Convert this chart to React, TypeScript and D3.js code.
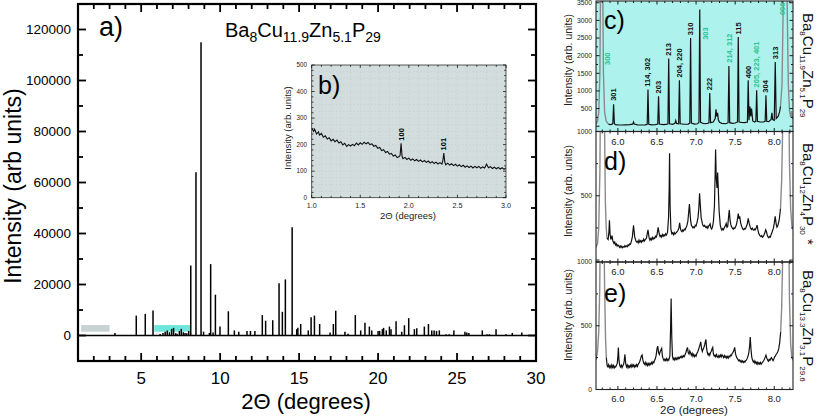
import React from "react";
import * as d3 from "d3";

const FONT = "'Liberation Sans', Arial, Helvetica, sans-serif";

// ---------- Panel a: calculated stick pattern ----------
const stickTwoTheta = [
  3.34, 4.69, 5.26, 5.75, 6.2, 6.38, 6.52, 6.65, 6.79, 6.93, 7.05, 7.18, 7.27, 7.42, 7.54, 7.67, 7.78, 7.89, 8.01,
  8.14, 8.47, 8.79, 8.95, 9.32, 9.4, 9.55, 9.7, 9.99, 10.52, 10.9, 11.18, 11.7, 11.92, 12.2, 12.67, 12.88, 13.33,
  13.73, 13.94, 14.13, 14.56, 14.85, 14.92, 15.1, 15.58, 15.76, 15.97, 16.3, 16.96, 17.17, 17.32, 17.9, 18.1, 18.56,
  18.9, 19.17, 19.45, 19.6, 20.0, 20.1, 20.27, 20.35, 20.52, 20.72, 20.82, 21.14, 21.5, 21.67, 21.94, 22.3, 22.45,
  22.93, 23.19, 23.4, 23.55, 23.7, 23.88, 24.3, 24.5, 24.8, 25.5, 25.62, 25.75, 26.6, 26.9, 27.05, 27.47, 28.1, 28.5, 29.1,
];
const stickIntensity = [
  1000, 7800, 8500, 9800, 600, 1000, 1500, 2000, 1300, 2600, 3000, 900, 700, 1800, 2600, 1300, 1000, 900, 1800,
  27500, 64000, 115000, 1500, 1000, 28000, 1200, 16000, 3500, 9500, 2000, 1500, 1800, 1800, 1800, 8000, 5800, 6000,
  20500, 9300, 22000, 42500, 2500, 3000, 4500, 2000, 7200, 7800, 4500, 1200, 4500, 9700, 1500, 700, 8000,
  2000, 5000, 3500, 2000, 1800, 1800, 2500, 3000, 2000, 3500, 2500, 5600, 1500, 4000, 6800, 2500, 2800,
  3500, 4500, 2000, 2000, 1800, 2000, 500, 500, 2000, 1500, 1200, 1000, 2000, 500, 500, 2500, 500, 1000, 1200,
];
const mainXTicks = [5, 10, 15, 20, 25, 30];
const mainYTicks = [0, 20000, 40000, 60000, 80000, 100000, 120000];
const zoomRangeB = [1.2, 3.0];
const zoomRangeC = [5.83, 8.14];
const zoomBoxLevels = [1500, 4100];

// ---------- Panel b (inset) ----------
const insetPoints: [number, number][] = [
  [1.0, 262], [1.02, 250], [1.03, 258], [1.05, 240], [1.07, 248], [1.08, 236], [1.1, 242], [1.12, 228], [1.14, 233],
  [1.16, 221], [1.18, 226], [1.2, 214], [1.22, 220], [1.24, 211], [1.26, 217], [1.28, 206], [1.3, 211], [1.32, 199],
  [1.34, 205], [1.36, 193], [1.38, 200], [1.4, 195], [1.42, 201], [1.44, 196], [1.46, 206], [1.48, 199], [1.5, 207],
  [1.52, 201], [1.54, 209], [1.56, 203], [1.58, 208], [1.6, 200], [1.62, 203], [1.64, 194], [1.66, 197], [1.68, 186],
  [1.7, 189], [1.72, 178], [1.74, 181], [1.76, 170], [1.78, 174], [1.8, 164], [1.82, 167], [1.84, 157], [1.86, 161],
  [1.88, 151], [1.9, 155], [1.91, 160], [1.92, 205], [1.93, 156], [1.94, 147], [1.96, 152], [1.98, 144], [2.0, 149],
  [2.02, 141], [2.04, 146], [2.06, 139], [2.08, 144], [2.1, 137], [2.12, 142], [2.14, 135], [2.16, 140], [2.18, 133],
  [2.2, 138], [2.22, 131], [2.24, 136], [2.26, 129], [2.28, 134], [2.3, 127], [2.32, 132], [2.34, 127], [2.35, 140],
  [2.36, 168], [2.37, 134], [2.38, 124], [2.4, 130], [2.42, 123], [2.44, 128], [2.46, 121], [2.48, 126], [2.5, 119],
  [2.52, 124], [2.54, 117], [2.56, 122], [2.58, 115], [2.6, 120], [2.62, 114], [2.64, 119], [2.66, 112], [2.68, 118],
  [2.7, 113], [2.72, 118], [2.74, 111], [2.76, 116], [2.78, 112], [2.8, 126], [2.82, 113], [2.84, 117], [2.86, 110],
  [2.88, 115], [2.9, 109], [2.92, 114], [2.94, 108], [2.96, 113], [2.98, 107], [3.0, 112],
];
const insetLabels = ["100", "101"];
const insetLabelX = [1.92, 2.36];
const insetLabelY = [215, 178];

// ---------- Panel c ----------
const cPoints: [number, number][] = [
  [5.72, 60], [5.74, 150], [5.755, 400], [5.77, 1500], [5.785, 6000], [5.8, 6000], [5.815, 1500], [5.83, 400], [5.85, 150],
  [5.87, 80], [5.88, 60], [5.9, 45], [5.92, 50], [5.935, 70], [5.945, 620], [5.955, 70], [5.97, 45], [6.0, 40], [6.05, 35],
  [6.1, 40], [6.15, 45], [6.19, 60], [6.2, 120], [6.21, 60], [6.25, 40], [6.3, 35], [6.35, 40], [6.375, 55], [6.385, 1040],
  [6.395, 55], [6.43, 40], [6.48, 45], [6.51, 60], [6.52, 850], [6.53, 60], [6.58, 45], [6.62, 50], [6.64, 70], [6.65, 1920],
  [6.66, 70], [6.7, 55], [6.73, 80], [6.74, 160], [6.75, 80], [6.777, 70], [6.787, 1300], [6.797, 70], [6.85, 55], [6.9, 60],
  [6.92, 90], [6.93, 2500], [6.94, 90], [6.98, 60], [7.02, 70], [7.037, 110], [7.047, 3310], [7.057, 110], [7.1, 70],
  [7.15, 80], [7.165, 100], [7.175, 940], [7.185, 100], [7.22, 120], [7.245, 220], [7.255, 480], [7.265, 280], [7.275, 380],
  [7.285, 180], [7.3, 110], [7.33, 80], [7.38, 70], [7.41, 100], [7.42, 1710], [7.43, 100], [7.47, 80], [7.5, 90], [7.53, 120],
  [7.54, 2530], [7.55, 120], [7.58, 110], [7.62, 100], [7.657, 120], [7.667, 1300], [7.677, 170], [7.69, 560], [7.7, 280],
  [7.71, 500], [7.725, 150], [7.75, 120], [7.765, 140], [7.775, 1020], [7.785, 140], [7.82, 120], [7.86, 120], [7.884, 140],
  [7.894, 880], [7.904, 140], [7.93, 130], [7.96, 190], [7.97, 380], [7.98, 190], [8.0, 170], [8.013, 1820], [8.025, 220],
  [8.05, 280], [8.07, 420], [8.08, 560], [8.1, 1200], [8.115, 3500], [8.13, 8000], [8.15, 8000], [8.165, 3500], [8.18, 1200],
  [8.195, 450], [8.21, 250], [8.222, 430], [8.232, 250], [8.24, 200],
];
const cLabelText = ["300", "301", "114, 302", "203", "213", "204, 220", "310", "303", "222", "214, 312", "115", "400", "205, 223, 401", "304", "313", "006"];
const cLabelX = [5.868, 5.945, 6.385, 6.52, 6.65, 6.787, 6.93, 7.125, 7.175, 7.43, 7.54, 7.667, 7.775, 7.894, 8.013, 8.11];
const cLabelY = [1735, 720, 1120, 930, 2000, 1380, 2580, 2450, 1020, 1800, 2600, 1360, 1100, 950, 1900, 3150];
const cLabelMainPhase = [true, false, false, false, false, false, false, true, false, true, false, false, true, false, false, true];

// ---------- Panel d ----------
const dPoints: [number, number][] = [
  [5.72, 100], [5.74, 130], [5.755, 250], [5.77, 700], [5.78, 1500], [5.795, 3000], [5.81, 3000], [5.825, 1300], [5.84, 450],
  [5.85, 260], [5.86, 170], [5.875, 160], [5.885, 220], [5.892, 310], [5.9, 200], [5.91, 160], [5.925, 190], [5.935, 150],
  [5.95, 130], [5.96, 140], [5.97, 118], [5.98, 126], [5.99, 108], [6.0, 118], [6.01, 112], [6.02, 100], [6.03, 110], [6.04, 98],
  [6.05, 108], [6.06, 96], [6.07, 104], [6.08, 100], [6.09, 112], [6.1, 103], [6.11, 110], [6.12, 104], [6.13, 118], [6.14, 112],
  [6.15, 126], [6.16, 122], [6.17, 140], [6.185, 180], [6.2, 270], [6.215, 180], [6.23, 150], [6.24, 140], [6.25, 146],
  [6.26, 134], [6.27, 155], [6.28, 140], [6.29, 150], [6.3, 138], [6.31, 152], [6.32, 145], [6.33, 162], [6.34, 148], [6.35, 158],
  [6.365, 170], [6.385, 235], [6.4, 170], [6.41, 155], [6.42, 168], [6.43, 158], [6.44, 176], [6.45, 162], [6.46, 172],
  [6.47, 168], [6.48, 185], [6.49, 178], [6.5, 195], [6.515, 255], [6.53, 200], [6.54, 182], [6.55, 192], [6.56, 180],
  [6.57, 198], [6.58, 186], [6.59, 196], [6.6, 188], [6.61, 204], [6.62, 195], [6.635, 215], [6.648, 330], [6.656, 560],
  [6.661, 830], [6.668, 420], [6.678, 240], [6.69, 205], [6.7, 212], [6.71, 198], [6.72, 214], [6.73, 202], [6.74, 210],
  [6.75, 216], [6.76, 224], [6.77, 232], [6.78, 250], [6.79, 290], [6.8, 245], [6.81, 226], [6.82, 220], [6.83, 234],
  [6.84, 226], [6.85, 240], [6.86, 236], [6.87, 252], [6.88, 262], [6.895, 300], [6.915, 435], [6.93, 310], [6.94, 270],
  [6.95, 262], [6.96, 250], [6.97, 258], [6.98, 252], [6.99, 270], [7.0, 265], [7.01, 288], [7.025, 330], [7.035, 400],
  [7.045, 520], [7.055, 420], [7.065, 330], [7.08, 285], [7.09, 268], [7.1, 262], [7.11, 270], [7.12, 258], [7.13, 252],
  [7.14, 262], [7.15, 248], [7.16, 262], [7.17, 272], [7.18, 282], [7.19, 250], [7.2, 242], [7.21, 256], [7.222, 300],
  [7.235, 420], [7.243, 640], [7.25, 860], [7.258, 640], [7.268, 560], [7.276, 680], [7.284, 560], [7.295, 380], [7.31, 270],
  [7.32, 245], [7.33, 232], [7.34, 244], [7.35, 236], [7.36, 252], [7.37, 262], [7.385, 285], [7.395, 255], [7.405, 262],
  [7.415, 330], [7.425, 390], [7.435, 310], [7.445, 275], [7.455, 258], [7.465, 248], [7.475, 240], [7.485, 250], [7.495, 246],
  [7.505, 260], [7.515, 272], [7.525, 300], [7.54, 362], [7.55, 320], [7.558, 340], [7.57, 290], [7.58, 268], [7.59, 252],
  [7.6, 240], [7.61, 236], [7.62, 246], [7.63, 242], [7.64, 256], [7.655, 280], [7.667, 325], [7.68, 285], [7.69, 262],
  [7.7, 246], [7.71, 238], [7.72, 248], [7.73, 236], [7.74, 232], [7.75, 242], [7.76, 236], [7.77, 252], [7.78, 272],
  [7.79, 238], [7.8, 210], [7.81, 196], [7.82, 188], [7.83, 182], [7.84, 190], [7.85, 178], [7.86, 184], [7.87, 196],
  [7.88, 212], [7.89, 235], [7.9, 222], [7.91, 196], [7.92, 180], [7.93, 174], [7.94, 184], [7.95, 178], [7.96, 198],
  [7.97, 212], [7.98, 232], [7.99, 248], [8.0, 285], [8.012, 340], [8.025, 280], [8.035, 256], [8.045, 266], [8.055, 290],
  [8.065, 320], [8.08, 400], [8.095, 620], [8.11, 1100], [8.125, 2000], [8.14, 3000], [8.165, 3000], [8.18, 1600],
  [8.195, 750], [8.21, 400], [8.225, 270], [8.24, 240],
];

// ---------- Panel e ----------
const ePoints: [number, number][] = [
  [5.72, 230], [5.74, 300], [5.755, 450], [5.768, 800], [5.778, 1500], [5.79, 3000], [5.805, 3000], [5.818, 1500],
  [5.83, 800], [5.842, 400], [5.852, 250], [5.862, 190], [5.872, 178], [5.882, 194], [5.892, 172], [5.902, 186], [5.912, 170],
  [5.922, 192], [5.932, 174], [5.942, 188], [5.952, 168], [5.962, 182], [5.972, 176], [5.982, 190], [5.992, 205],
  [6.0, 260], [6.006, 330], [6.014, 230], [6.024, 188], [6.034, 176], [6.044, 190], [6.054, 172], [6.064, 186],
  [6.074, 200], [6.082, 230], [6.09, 275], [6.1, 205], [6.11, 178], [6.12, 192], [6.13, 170], [6.14, 186], [6.15, 174],
  [6.16, 190], [6.17, 176], [6.18, 196], [6.19, 180], [6.2, 192], [6.21, 176], [6.22, 190], [6.23, 180], [6.24, 196],
  [6.25, 182], [6.26, 198], [6.27, 206], [6.28, 220], [6.29, 240], [6.3, 262], [6.31, 270], [6.32, 230], [6.33, 208],
  [6.34, 198], [6.35, 212], [6.36, 192], [6.37, 206], [6.38, 188], [6.39, 204], [6.4, 190], [6.41, 206], [6.42, 196],
  [6.43, 212], [6.44, 200], [6.45, 218], [6.46, 210], [6.47, 230], [6.48, 242], [6.49, 270], [6.5, 318], [6.51, 340],
  [6.52, 290], [6.53, 275], [6.54, 296], [6.55, 310], [6.56, 322], [6.57, 260], [6.58, 240], [6.59, 226], [6.6, 238],
  [6.61, 228], [6.62, 242], [6.63, 226], [6.64, 238], [6.65, 230], [6.665, 262], [6.674, 480], [6.681, 713], [6.689, 420],
  [6.698, 262], [6.708, 236], [6.718, 246], [6.728, 232], [6.738, 246], [6.748, 236], [6.758, 250], [6.768, 238],
  [6.778, 252], [6.788, 244], [6.8, 258], [6.81, 250], [6.82, 262], [6.83, 252], [6.84, 266], [6.85, 258], [6.86, 274],
  [6.87, 290], [6.88, 312], [6.89, 330], [6.9, 290], [6.91, 278], [6.92, 302], [6.93, 286], [6.94, 268], [6.95, 284],
  [6.96, 262], [6.97, 276], [6.98, 258], [6.99, 270], [7.0, 262], [7.01, 282], [7.02, 294], [7.03, 310], [7.045, 340],
  [7.06, 373], [7.07, 320], [7.08, 298], [7.09, 316], [7.1, 330], [7.11, 350], [7.12, 380], [7.126, 392], [7.135, 320],
  [7.145, 286], [7.155, 270], [7.165, 282], [7.175, 268], [7.185, 290], [7.195, 300], [7.205, 320], [7.213, 330],
  [7.222, 278], [7.232, 262], [7.242, 270], [7.252, 256], [7.262, 274], [7.272, 258], [7.282, 250], [7.292, 266],
  [7.302, 254], [7.312, 270], [7.322, 256], [7.332, 272], [7.342, 262], [7.352, 250], [7.362, 266], [7.372, 252],
  [7.382, 262], [7.392, 246], [7.402, 258], [7.412, 246], [7.422, 262], [7.432, 256], [7.442, 270], [7.452, 266],
  [7.462, 284], [7.472, 290], [7.482, 304], [7.494, 330], [7.505, 280], [7.515, 258], [7.525, 246], [7.535, 236],
  [7.545, 226], [7.555, 232], [7.565, 218], [7.575, 228], [7.585, 214], [7.595, 224], [7.605, 212], [7.615, 222],
  [7.625, 214], [7.635, 226], [7.645, 232], [7.655, 246], [7.665, 262], [7.675, 290], [7.685, 340], [7.693, 412],
  [7.702, 320], [7.712, 256], [7.722, 230], [7.732, 216], [7.742, 226], [7.752, 208], [7.762, 218], [7.772, 202],
  [7.782, 214], [7.792, 198], [7.802, 210], [7.812, 200], [7.822, 212], [7.832, 198], [7.842, 208], [7.852, 214],
  [7.862, 224], [7.872, 236], [7.882, 250], [7.894, 270], [7.905, 246], [7.915, 232], [7.925, 222], [7.935, 236],
  [7.945, 228], [7.955, 242], [7.965, 250], [7.975, 238], [7.985, 226], [7.995, 240], [8.005, 256], [8.015, 264],
  [8.025, 276], [8.035, 284], [8.045, 296], [8.058, 320], [8.07, 370], [8.082, 450], [8.095, 640], [8.11, 1100],
  [8.125, 2000], [8.14, 3000], [8.165, 3000], [8.18, 1600], [8.195, 700], [8.21, 360], [8.225, 250], [8.24, 230],
];

const rightXTicks = [6.0, 6.5, 7.0, 7.5, 8.0];
const cYTicks = [500, 1000, 1500, 2000, 2500, 3000, 3500];
const dYTicks = [500, 1000];
const eYTicks = [0, 500, 1000];

const cFormula: [string, string][] = [["Ba", "8"], ["Cu", "11.9"], ["Zn", "5.1"], ["P", "29"]];
const dFormula: [string, string][] = [["Ba", "8"], ["Cu", "12"], ["Zn", "4"], ["P", "30"]];
const eFormula: [string, string][] = [["Ba", "8"], ["Cu", "13.3"], ["Zn", "3.1"], ["P", "29.6"]];

// ---------- helpers ----------
type Lin = d3.ScaleLinear<number, number>;

function frameTicks(
  xs: Lin, ys: Lin, xMaj: number[], xMin: number[], yMaj: number[], yMin: number[],
  lMaj: number, lMin: number, sw: number, key: string
) {
  const [x0, x1] = xs.range();
  const [yb, yt] = ys.range();
  const out: JSX.Element[] = [];
  const add = (v: number, L: number, axis: "x" | "y", i: string) => {
    if (axis === "x") {
      const px = xs(v);
      out.push(<line key={key + "b" + i} x1={px} x2={px} y1={yb} y2={yb - L} stroke="#000" strokeWidth={sw} />);
      out.push(<line key={key + "t" + i} x1={px} x2={px} y1={yt} y2={yt + L} stroke="#000" strokeWidth={sw} />);
    } else {
      const py = ys(v);
      out.push(<line key={key + "l" + i} x1={x0} x2={x0 + L} y1={py} y2={py} stroke="#000" strokeWidth={sw} />);
      out.push(<line key={key + "r" + i} x1={x1} x2={x1 - L} y1={py} y2={py} stroke="#000" strokeWidth={sw} />);
    }
  };
  xMaj.forEach((v, i) => add(v, lMaj, "x", "M" + i));
  xMin.forEach((v, i) => add(v, lMin, "x", "m" + i));
  yMaj.forEach((v, i) => add(v, lMaj, "y", "M" + i));
  yMin.forEach((v, i) => add(v, lMin, "y", "m" + i));
  return out;
}

function Formula({ parts, fs, sfs, shift }: { parts: [string, string][]; fs: number; sfs: number; shift: number }) {
  const spans: JSX.Element[] = [];
  parts.forEach(([el, n], i) => {
    spans.push(<tspan key={"e" + i} dy={i === 0 ? 0 : -shift} fontSize={fs}>{el}</tspan>);
    spans.push(<tspan key={"n" + i} dy={shift} fontSize={sfs}>{n}</tspan>);
  });
  return <>{spans}</>;
}

const near = (a: number, b: number) => Math.abs(a - b) < 1e-9;
const minorOf = (lo: number, hi: number, step: number, majors: number[]) =>
  d3.range(Math.round((hi - lo) / step) + 1).map((i) => +(lo + i * step).toFixed(6)).filter((v) => !majors.some((m) => near(m, v)));

export default function App() {
  // main panel scales
  const mx = d3.scaleLinear().domain([1, 30]).range([78, 536]);
  const my = d3.scaleLinear().domain([-10000, 130000]).range([361, 4]);
  // inset scales
  const ix = d3.scaleLinear().domain([1, 3]).range([311.7, 506]);
  const iy = d3.scaleLinear().domain([0, 500]).range([197.7, 65]);
  // right panels
  const rx = d3.scaleLinear().domain([5.72, 8.24]).range([596, 793]);
  const cy = d3.scaleLinear().domain([-150, 3550]).range([131.5, 1]);
  const dy = d3.scaleLinear().domain([-15, 1000]).range([262, 131.5]);
  const ey = d3.scaleLinear().domain([0, 1000]).range([389.5, 262]);

  const insetLine = d3.line<[number, number]>().x((d) => ix(d[0])).y((d) => iy(d[1]));

  const panelPaths = (pts: [number, number][], ys: Lin, lo: number, hi: number) => {
    const ln = d3.line<[number, number]>().x((d) => rx(d[0])).y((d) => ys(d[1]));
    return {
      left: ln(pts.filter((p) => p[0] <= lo + 1e-9)) || "",
      mid: ln(pts.filter((p) => p[0] >= lo - 1e-9 && p[0] <= hi + 1e-9)) || "",
      right: ln(pts.filter((p) => p[0] >= hi - 1e-9)) || "",
    };
  };
  const cP = panelPaths(cPoints, cy, 5.88, 8.08);
  const dP = panelPaths(dPoints, dy, 5.86, 8.08);
  const eP = panelPaths(ePoints, ey, 5.852, 8.082);

  const mainXMinor = minorOf(1, 30, 1, mainXTicks);
  const mainYMinor = minorOf(-10000, 130000, 10000, mainYTicks);
  const insetXMaj = [1.0, 1.5, 2.0, 2.5, 3.0];
  const insetYMaj = [0, 100, 200, 300, 400, 500];
  const rXMinor = minorOf(5.8, 8.2, 0.1, rightXTicks);

  const green = "#2fc38f";
  const gray = "#8a8a8a";

  const rightPanels = [
    { key: "c", ys: cy, paths: cP, yMaj: [0, 500, 1000, 1500, 2000, 2500, 3000, 3500], yMin: minorOf(-0, 3500, 250, [0, 500, 1000, 1500, 2000, 2500, 3000, 3500]) },
    { key: "d", ys: dy, paths: dP, yMaj: [0, 500, 1000], yMin: minorOf(0, 1000, 250, [0, 500, 1000]) },
    { key: "e", ys: ey, paths: eP, yMaj: [0, 500, 1000], yMin: minorOf(0, 1000, 250, [0, 500, 1000]) },
  ];

  return (
    <svg width={817} height={419} style={{ position: "absolute", left: 0, top: 0, background: "#fff" }} fontFamily={FONT}>
      <defs>
        <clipPath id="clipMain"><rect x={78} y={4} width={458} height={357} /></clipPath>
        <clipPath id="clipInset"><rect x={311.7} y={65} width={194.3} height={132.7} /></clipPath>
        <clipPath id="clipc"><rect x={596} y={1} width={197} height={130.5} /></clipPath>
        <clipPath id="clipd"><rect x={596} y={131.5} width={197} height={130.5} /></clipPath>
        <clipPath id="clipe"><rect x={596} y={262} width={197} height={127.5} /></clipPath>
      </defs>

      {/* ================= Panel a ================= */}
      <rect x={78} y={4} width={458} height={357} fill="#fff" />
      <g clipPath="url(#clipMain)">
        <rect x={mx(zoomRangeB[0])} y={my(zoomBoxLevels[1])} width={mx(zoomRangeB[1]) - mx(zoomRangeB[0])}
          height={my(zoomBoxLevels[0]) - my(zoomBoxLevels[1])} fill="#c9d2d2" />
        <rect x={mx(zoomRangeC[0])} y={my(zoomBoxLevels[1])} width={mx(zoomRangeC[1]) - mx(zoomRangeC[0])}
          height={my(zoomBoxLevels[0]) - my(zoomBoxLevels[1])} fill="#6fe6dc" />
        <line x1={78} x2={536} y1={my(0)} y2={my(0)} stroke="#000" strokeWidth={1.4} />
        {stickTwoTheta.map((t, i) => (
          <line key={"s" + i} x1={mx(t)} x2={mx(t)} y1={my(0)} y2={my(stickIntensity[i])} stroke="#000" strokeWidth={1.5} />
        ))}
      </g>
      <rect x={78} y={4} width={458} height={357} fill="none" stroke="#000" strokeWidth={2.2} />
      {frameTicks(mx, my, mainXTicks, mainXMinor, mainYTicks, mainYMinor, 8, 5, 1.8, "a")}
      {mainYTicks.map((v) => (
        <text key={"ay" + v} x={71} y={my(v)} dy="0.35em" textAnchor="end" fontSize={13.5}>{v}</text>
      ))}
      {mainXTicks.map((v) => (
        <text key={"ax" + v} x={mx(v)} y={384} textAnchor="middle" fontSize={17}>{v}</text>
      ))}
      <text x={306} y={409} textAnchor="middle" fontSize={22}>2Θ (degrees)</text>
      <text transform="translate(21,186) rotate(-90)" textAnchor="middle" fontSize={23}>Intensity (arb  units)</text>
      <text x={99} y={36} fontSize={27}>a)</text>
      <text x={225} y={37}>
        <Formula parts={cFormula} fs={20} sfs={14} shift={5} />
      </text>

      {/* ================= Panel b (inset) ================= */}
      <rect x={311.7} y={65} width={194.3} height={132.7} fill="#d3dddd" />
      {d3.range(1.1, 3.0, 0.1).map((v, i) => (
        <line key={"ig" + i} x1={ix(v)} x2={ix(v)} y1={65} y2={197.7} stroke="#b9c8c8" strokeWidth={0.6} strokeDasharray="1,2.5" />
      ))}
      {d3.range(25, 500, 25).map((v, i) => (
        <line key={"ih" + i} x1={311.7} x2={506} y1={iy(v)} y2={iy(v)} stroke="#b9c8c8" strokeWidth={0.6} strokeDasharray="1,2.5" />
      ))}
      <g clipPath="url(#clipInset)">
        <path d={insetLine(insetPoints) || ""} fill="none" stroke="#111" strokeWidth={1.1} />
      </g>
      {insetLabels.map((t, i) => (
        <text key={"il" + i} transform={`translate(${ix(insetLabelX[i])},${iy(insetLabelY[i])}) rotate(-90)`}
          dominantBaseline="central" fontSize={7.5} fontWeight="bold">{t}</text>
      ))}
      <rect x={311.7} y={65} width={194.3} height={132.7} fill="none" stroke="#333" strokeWidth={0.8} />
      {frameTicks(ix, iy, insetXMaj, minorOf(1, 3, 0.1, insetXMaj), insetYMaj, minorOf(0, 500, 20, insetYMaj), 3, 1.8, 0.7, "b")}
      {insetYMaj.map((v) => (
        <text key={"iyl" + v} x={307} y={iy(v)} dy="0.35em" textAnchor="end" fontSize={6.3} fill="#222">{v}</text>
      ))}
      {insetXMaj.map((v) => (
        <text key={"ixl" + v} x={ix(v)} y={208} textAnchor="middle" fontSize={7.2} fill="#222">{v.toFixed(1)}</text>
      ))}
      <text x={408} y={219} textAnchor="middle" fontSize={9.5} fill="#222">2Θ (degrees)</text>
      <text transform="translate(291,128) rotate(-90)" textAnchor="middle" fontSize={9.5} fill="#222">Intensity (arb. units)</text>
      <text x={318} y={94} fontSize={25}>b)</text>

      {/* ================= Panels c, d, e ================= */}
      <rect x={596} y={1} width={197} height={130.5} fill="#aef2ee" />
      {rightPanels.map((p) => (
        <g key={"rp" + p.key}>
          <g clipPath={`url(#clip${p.key})`}>
            <path d={p.paths.left} fill="none" stroke={gray} strokeWidth={1.4} />
            <path d={p.paths.right} fill="none" stroke={gray} strokeWidth={1.4} />
            <path d={p.paths.mid} fill="none" stroke="#111" strokeWidth={1.2} />
          </g>
          {frameTicks(rx, p.ys, rightXTicks, rXMinor, p.yMaj, p.yMin, 3.5, 2, 0.9, p.key)}
          <rect x={596} y={p.ys.range()[1]} width={197} height={p.ys.range()[0] - p.ys.range()[1]} fill="none" stroke="#222" strokeWidth={1.1} />
        </g>
      ))}
      {cLabelText.map((t, i) => (
        <text key={"cl" + i} transform={`translate(${rx(cLabelX[i])},${cy(cLabelY[i])}) rotate(-90)`}
          dominantBaseline="central" fontSize={7.5} fontWeight="bold" fill={cLabelMainPhase[i] ? green : "#111"}>{t}</text>
      ))}
      {cYTicks.map((v) => (
        <text key={"cyl" + v} x={592} y={cy(v)} dy="0.35em" textAnchor="end" fontSize={6.8} fill="#222">{v}</text>
      ))}
      {dYTicks.map((v) => (
        <text key={"dyl" + v} x={592} y={dy(v)} dy="0.35em" textAnchor="end" fontSize={6.8} fill="#222">{v}</text>
      ))}
      {eYTicks.map((v) => (
        <text key={"eyl" + v} x={592} y={ey(v)} dy="0.35em" textAnchor="end" fontSize={6.8} fill="#222">{v}</text>
      ))}
      {[144.5, 274.5, 401.5].map((yy, j) =>
        rightXTicks.map((v) => (
          <text key={"rxl" + j + v} x={rx(v)} y={yy} textAnchor="middle" fontSize={9.5} fill="#222">{v.toFixed(1)}</text>
        ))
      )}
      <text x={694} y={414} textAnchor="middle" fontSize={11.5} fill="#222">2Θ (degrees)</text>
      {[60, 191, 315].map((cyy, j) => (
        <text key={"ryl" + j} transform={`translate(572,${cyy}) rotate(-90)`} textAnchor="middle" fontSize={10.5} fill="#222">
          Intensity (arb. units)
        </text>
      ))}
      <text x={604} y={29} fontSize={25}>c)</text>
      <text x={604} y={170} fontSize={25}>d)</text>
      <text x={604} y={302} fontSize={25}>e)</text>

      <text transform="translate(803,13) rotate(90)" fill="#111">
        <Formula parts={cFormula} fs={15} sfs={8} shift={3.5} />
      </text>
      <text transform="translate(803,143) rotate(90)" fill="#111">
        <Formula parts={dFormula} fs={15} sfs={8} shift={3.5} />
        <tspan dy={-3.5} fontSize={15}> *</tspan>
      </text>
      <text transform="translate(803,270) rotate(90)" fill="#111">
        <Formula parts={eFormula} fs={15} sfs={8} shift={3.5} />
      </text>
    </svg>
  );
}
